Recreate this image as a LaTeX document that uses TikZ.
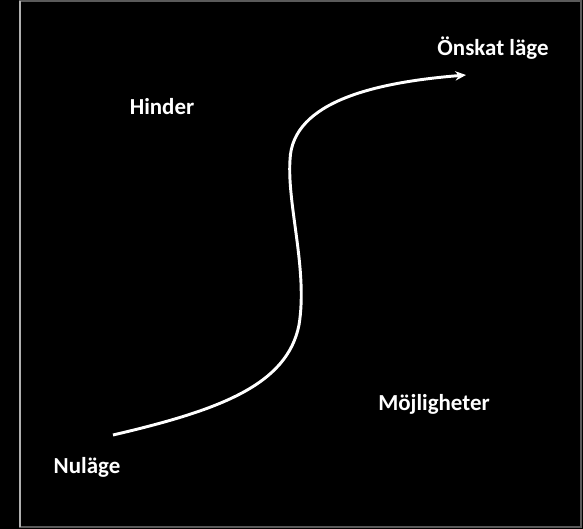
\documentclass[tikz,border=0pt]{standalone}
\usepackage{fontspec}
\setmainfont{Carlito}
\usepackage{xcolor}
\usepackage{tikz}
\usetikzlibrary{arrows.meta}
\definecolor{framecolor}{HTML}{5A5A5A}
\definecolor{edgecolor}{HTML}{B0B0B0}

\begin{document}
\begin{tikzpicture}[
    x=0.75pt, y=-0.75pt,
    every node/.style={text=white,
                       font=\bfseries\fontsize{17.2}{20}\selectfont,
                       inner sep=0pt}
]
\fill[black] (0,0) rectangle (583,529);
\useasboundingbox (0,0) rectangle (583,529);
\draw[framecolor, line width=0.8pt] (20,1) rectangle (581,527);
\draw[edgecolor, line width=0.9pt] (20,1) -- (20,527);

\node (hinder) at (162,107) {Hinder};
\node (mojlig) at (434,404) {Möjligheter};
\node (nulage) at (87,467) {Nuläge};
\node (onskat) at (493,48) {Önskat läge};

\coordinate (from) at (113,435);
\coordinate (to) at (466,75);

\draw[white, line width=2.2pt, -{Stealth[length=8pt,width=7pt]}]
    (from) .. controls (220,410) and (287,385) .. (299,325)
    .. controls (308,270) and (287,205) .. (290,160)
    .. controls (292,100) and (380,82) .. (to);
\end{tikzpicture}
\end{document}
